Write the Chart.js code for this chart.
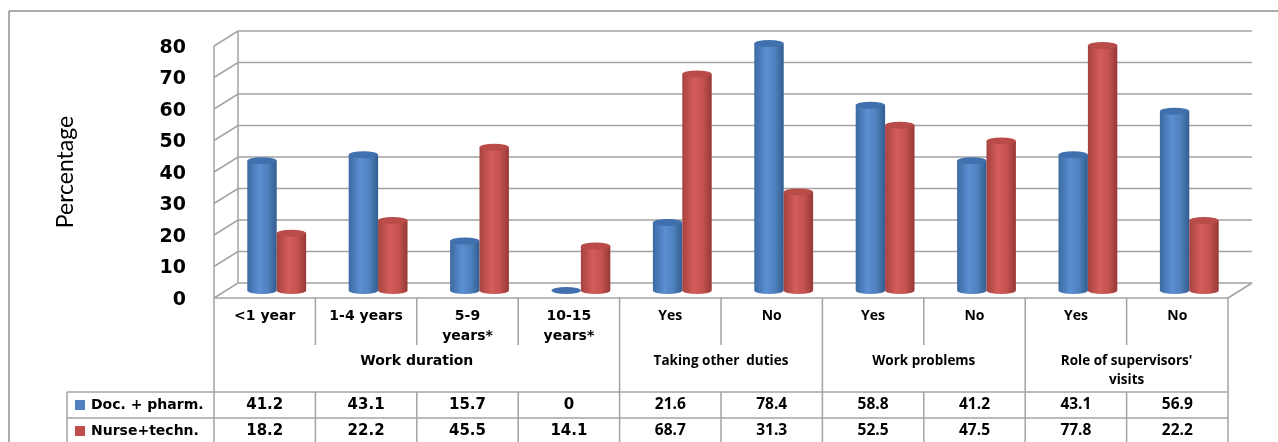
<!DOCTYPE html>
<html>
<head>
<meta charset="utf-8">
<title>Percentage by staff group</title>
<script src="https://cdn.jsdelivr.net/npm/chart.js@4.4.0/dist/chart.umd.min.js"></script>
<style>
  html, body { margin: 0; padding: 0; background: #fff; }
  #wrap { position: relative; width: 1278px; height: 442px; }
</style>
</head>
<body>
<div id="wrap"><canvas id="chart" width="1278" height="442"></canvas></div>
<script>
// column labels (\n = second line), group labels with how many columns each spans
const categories = ['<1 year', '1-4 years', '5-9\nyears*', '10-15\nyears*', 'Yes', 'No', 'Yes', 'No', 'Yes', 'No'];
const groupLabels = ['Work duration', 'Taking other  duties', 'Work problems', "Role of supervisors'\nvisits"];
const groupSpans = [4, 2, 2, 2];
const seriesNames = ['Doc. + pharm.', 'Nurse+techn.'];
const docPharm = [41.2, 43.1, 15.7, 0, 21.6, 78.4, 58.8, 41.2, 43.1, 56.9];
const nurseTechn = [18.2, 22.2, 45.5, 14.1, 68.7, 31.3, 52.5, 47.5, 77.8, 22.2];
const yTicks = [0, 10, 20, 30, 40, 50, 60, 70, 80];

const WIDE = "'DejaVu Sans', Verdana, sans-serif";
const NARROW = "'Open Sans', 'Noto Sans', sans-serif";
const TITLE_FACE = "Lato, 'Open Sans', sans-serif";
const GRID = '#a3a3a3';
const DEPTH_X = 24, DEPTH_Y = -15;   // back wall offset
const BAR_X = 12, BAR_Y = -7.5;      // bars stand half way in

const palettes = [
  { edge: '#3d69a1', light: '#5a8fd2', base: '#4f81bd', dark: '#335d90', top: '#4070ad', swatch: '#4f81bd' },
  { edge: '#a6423f', light: '#d45d5a', base: '#c4524f', dark: '#963936', top: '#b94b48', swatch: '#c0504d' }
];

// first four columns use the wide face, the rest the narrow one
function faceFor(col) { return col < 4 ? WIDE : NARROW; }
function labelFont(col) { return col < 4 ? 'bold 14px ' + WIDE : 'bold 14px ' + NARROW; }
function groupFont(col) { return col < 4 ? 'bold 14px ' + WIDE : 'bold 13.5px ' + NARROW; }
function valueFont(col) { return col < 4 ? 'bold 15px ' + WIDE : 'bold 15.5px ' + NARROW; }

function line(ctx, x1, y1, x2, y2) {
  ctx.beginPath();
  ctx.moveTo(x1, y1);
  ctx.lineTo(x2, y2);
  ctx.stroke();
}

const wallPlugin = {
  id: 'wall3d',
  beforeDatasetsDraw(chart) {
    const { ctx, chartArea: a, scales: { y } } = chart;
    ctx.save();
    // outer frame
    ctx.strokeStyle = '#8f8f8f';
    ctx.lineWidth = 1.5;
    line(ctx, 9, 11, 1280, 11);
    line(ctx, 9, 11, 9, 450);

    ctx.strokeStyle = GRID;
    ctx.lineWidth = 1.5;
    yTicks.forEach(v => {
      const py = y.getPixelForValue(v);
      ctx.beginPath();
      ctx.moveTo(a.left, py);
      ctx.lineTo(a.left + DEPTH_X, py + DEPTH_Y);
      ctx.lineTo(a.right + DEPTH_X, py + DEPTH_Y);
      ctx.stroke();
    });
    line(ctx, a.left, a.top, a.left, a.bottom);
    line(ctx, a.left + DEPTH_X, a.top + DEPTH_Y, a.left + DEPTH_X, a.bottom + DEPTH_Y);
    line(ctx, a.right, a.bottom, a.right + DEPTH_X, a.bottom + DEPTH_Y);
    ctx.restore();
  }
};

function drawCylinder(ctx, cx, w, yTop, yBase, p) {
  const rx = w / 2, ry = 3.5;
  const left = cx - rx, right = cx + rx;
  if (yBase - yTop > 0.5) {
    const g = ctx.createLinearGradient(left, 0, right, 0);
    g.addColorStop(0, p.edge);
    g.addColorStop(0.4, p.light);
    g.addColorStop(0.7, p.base);
    g.addColorStop(1, p.dark);
    ctx.beginPath();
    ctx.moveTo(left, yTop);
    ctx.lineTo(left, yBase);
    ctx.ellipse(cx, yBase, rx, ry, 0, Math.PI, 0, true);
    ctx.lineTo(right, yTop);
    ctx.closePath();
    ctx.fillStyle = g;
    ctx.fill();
  }
  ctx.beginPath();
  ctx.ellipse(cx, yTop, rx, ry, 0, 0, Math.PI * 2);
  ctx.fillStyle = p.top;
  ctx.fill();
}

const cylinderPlugin = {
  id: 'cylinders',
  afterDatasetsDraw(chart) {
    const { ctx } = chart;
    ctx.save();
    chart.data.datasets.forEach((ds, i) => {
      const meta = chart.getDatasetMeta(i);
      meta.data.forEach(bar => {
        const { x, y, base, width } = bar.getProps(['x', 'y', 'base', 'width'], true);
        drawCylinder(ctx, x + BAR_X, width, y + BAR_Y, base + BAR_Y, palettes[i]);
      });
    });
    ctx.restore();
  }
};

function drawLines(ctx, text, x, y, step) {
  text.split('\n').forEach((t, k) => ctx.fillText(t, x, y + k * step));
}

const tablePlugin = {
  id: 'dataTable',
  afterDraw(chart) {
    const { ctx, chartArea: a, scales: { x } } = chart;
    const colW = (a.right - a.left) / categories.length;
    const top = a.bottom;
    const subBottom = top + 47;
    const headBottom = top + 94;
    const rowH = 26;
    const tableBottom = headBottom + rowH * 2;
    const legendLeft = 67;
    const edges = categories.map((c, i) => a.left + i * colW).concat([a.right]);

    // which edges close a group
    const groupEdges = new Set([0]);
    let acc = 0;
    groupSpans.forEach(s => { acc += s; groupEdges.add(acc); });

    ctx.save();
    ctx.strokeStyle = GRID;
    ctx.lineWidth = 1.5;
    line(ctx, a.left, top, a.right, top);
    line(ctx, legendLeft, headBottom, a.right, headBottom);
    line(ctx, legendLeft, headBottom + rowH, a.right, headBottom + rowH);
    line(ctx, legendLeft, tableBottom, a.right, tableBottom);
    line(ctx, legendLeft, headBottom, legendLeft, tableBottom);
    edges.forEach((ex, i) => {
      if (groupEdges.has(i)) {
        line(ctx, ex, top, ex, tableBottom);
      } else {
        line(ctx, ex, top, ex, subBottom);
        line(ctx, ex, headBottom, ex, tableBottom);
      }
    });

    ctx.fillStyle = '#000';
    ctx.textAlign = 'center';
    ctx.textBaseline = 'middle';
    categories.forEach((c, i) => {
      const cx = x.getPixelForValue(i);
      ctx.font = labelFont(i);
      drawLines(ctx, c, cx, top + 18, 20);
      ctx.font = valueFont(i);
      ctx.fillText(String(docPharm[i]), cx, headBottom + rowH / 2);
      ctx.fillText(String(nurseTechn[i]), cx, headBottom + rowH * 1.5);
    });

    let start = 0;
    groupLabels.forEach((g, k) => {
      const cx = (edges[start] + edges[start + groupSpans[k]]) / 2;
      ctx.font = groupFont(start);
      drawLines(ctx, g, cx, top + 63, 19);
      start += groupSpans[k];
    });

    // legend keys in the row headers
    ctx.textAlign = 'left';
    ctx.font = 'bold 14px ' + WIDE;
    seriesNames.forEach((name, i) => {
      const cy = headBottom + rowH * (i + 0.5);
      ctx.fillStyle = palettes[i].swatch;
      ctx.fillRect(75, cy - 5, 10, 10);
      ctx.fillStyle = '#000';
      ctx.fillText(name, 91, cy);
    });
    ctx.restore();
  }
};

new Chart(document.getElementById('chart'), {
  type: 'bar',
  data: {
    labels: categories,
    datasets: [
      { label: seriesNames[0], data: docPharm, backgroundColor: 'rgba(0,0,0,0)' },
      { label: seriesNames[1], data: nurseTechn, backgroundColor: 'rgba(0,0,0,0)' }
    ]
  },
  options: {
    responsive: false,
    animation: false,
    devicePixelRatio: 1,
    layout: { padding: { left: 0, top: 46, right: 50, bottom: 144 } },
    categoryPercentage: 0.58,
    barPercentage: 1,
    plugins: { legend: { display: false }, tooltip: { enabled: false } },
    scales: {
      x: { display: false },
      y: {
        min: 0,
        max: 80,
        afterFit: s => { s.width = 214; },
        afterBuildTicks: s => { s.ticks = yTicks.map(v => ({ value: v })); },
        grid: { display: false, drawTicks: false },
        border: { display: false },
        ticks: { color: '#000', padding: 28, labelOffset: 2, font: { family: WIDE, size: 19, weight: 'bold' } },
        title: {
          display: true,
          text: 'Percentage',
          color: '#000',
          padding: { top: 52 },
          font: { family: TITLE_FACE, size: 23, weight: 'normal' }
        }
      }
    }
  },
  plugins: [wallPlugin, cylinderPlugin, tablePlugin]
});
</script>
</body>
</html>
